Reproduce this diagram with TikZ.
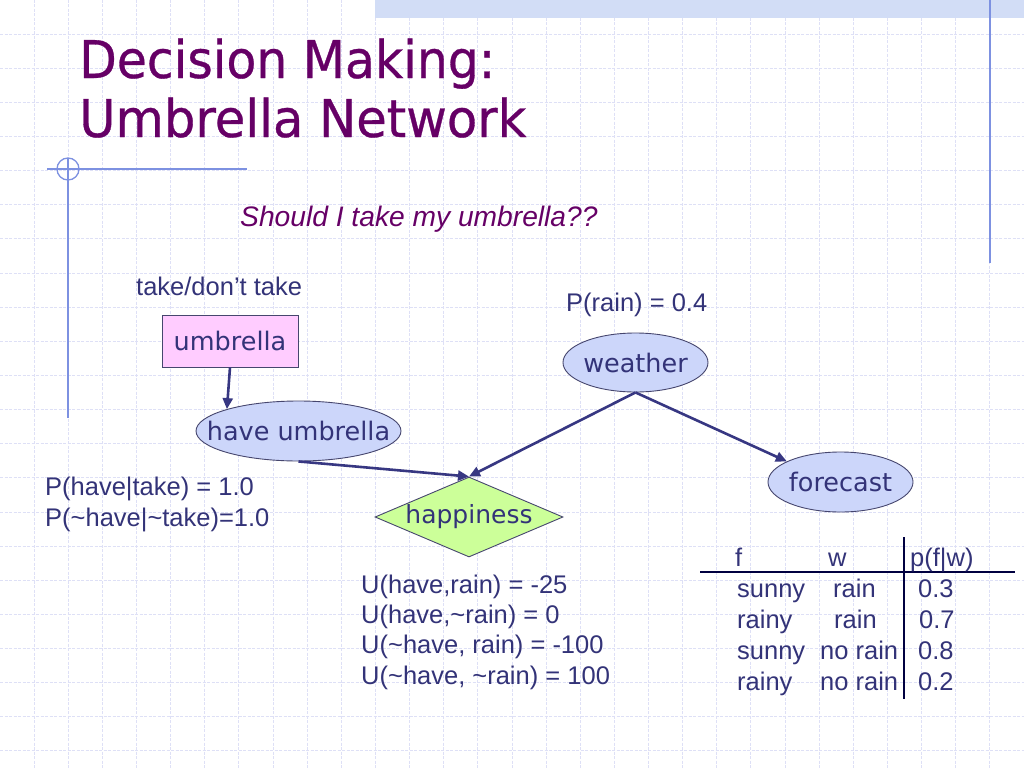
\documentclass[tikz,border=0pt]{standalone}
\usepackage{graphicx}
\usepackage{fontspec}
\usetikzlibrary{arrows.meta,shapes.geometric}
\setmainfont{Liberation Sans}
\newfontfamily\titlefont[FakeBold=0.6]{DejaVu Sans}
\newfontfamily\nodefont{DejaVu Sans}
\definecolor{txtcol}{RGB}{51,51,120}
\definecolor{titlecol}{RGB}{102,0,102}
\definecolor{gridcol}{RGB}{222,224,246}
\definecolor{bandcol}{RGB}{210,221,246}
\definecolor{decocol}{RGB}{125,145,225}
\definecolor{arrcol}{RGB}{55,55,130}
\definecolor{ellfill}{RGB}{204,214,250}
\definecolor{pinkfill}{RGB}{255,204,255}
\definecolor{greenfill}{RGB}{204,255,153}
\definecolor{bordercol}{RGB}{70,70,110}
\tikzset{
  gridline/.style={draw=gridcol, line width=0.9, dash pattern=on 3 off 1.5},
  deco/.style={draw=decocol, line width=1.3},
  lbl/.style={anchor=base west, inner sep=0, text=txtcol, font=\fontsize{25.5}{25.5}\selectfont},
  titletext/.style={anchor=base west, inner sep=0, text=titlecol, font=\titlefont\fontsize{52}{52}\selectfont},
  netnode/.style={draw=bordercol, line width=0.9, text=txtcol, font=\nodefont\fontsize{25.5}{25.5}\selectfont, inner sep=0},
  ellnode/.style={netnode, ellipse, fill=ellfill},
  arr/.style={draw=arrcol, line width=2.6, -{Triangle[length=11,width=10]}},
  tabline/.style={draw=black!75!blue, line width=1.1}
}
\begin{document}
\begin{tikzpicture}[x=1pt,y=-1pt]
\useasboundingbox (0,0) rectangle (1024,768);
\fill[white] (0,0) rectangle (1024,768);
% background grid
\foreach \i in {1,...,29} \draw[gridline] ({\i*34.133},0) -- ({\i*34.133},768);
\foreach \j in {1,...,22} \draw[gridline] (0,{\j*34.133}) -- (1024,{\j*34.133});
% top band and decorations
\fill[bandcol] (375,0) rectangle (1024,18);
\draw[deco, line width=1.8] (990,0) -- (990,263);
\draw[deco] (47,169) -- (247,169);
\draw[deco] (68,158) -- (68,418);
\draw[deco] (68,169) circle (11);
% title
\node[titletext] (title1) at (79,78) {\scalebox{0.94}[1]{Decision Making:}};
\node[titletext] (title2) at (79,137) {\scalebox{0.955}[1]{Umbrella Network}};
\node[anchor=base west, inner sep=0, text=titlecol, font=\itshape\fontsize{28.2}{28.2}\selectfont] (question) at (240,226) {Should I take my umbrella??};
% labels
\node[lbl] (takelbl) at (136,295) {take/don’t take};
\node[lbl] (rainlbl) at (566,311) {P(rain) = 0.4};
\node[lbl] (ptake1) at (45,495) {P(have|take) = 1.0};
\node[lbl] (ptake2) at (45,526) {P(\textasciitilde have|\textasciitilde take)=1.0};
\node[lbl] (u1) at (361,593) {U(have,rain) = -25};
\node[lbl] (u2) at (361,623) {U(have,\textasciitilde rain) = 0};
\node[lbl] (u3) at (361,653) {U(\textasciitilde have, rain) = -100};
\node[lbl] (u4) at (361,684) {U(\textasciitilde have, \textasciitilde rain) = 100};
% nodes
\node[netnode, rectangle, fill=pinkfill, minimum width=136, minimum height=52] (umbrella) at (230,341) {umbrella};
\node[ellnode, inner xsep=-20, minimum width=205, minimum height=60] (have) at (298.5,431) {have umbrella};
\node[ellnode, inner xsep=-2, minimum width=145, minimum height=59] (weather) at (635.5,362.5) {weather};
\node[ellnode, inner xsep=-2, minimum width=145, minimum height=60] (forecast) at (840.5,482) {forecast};
\node[netnode, diamond, aspect=2.4, fill=greenfill, minimum width=188, minimum height=80, inner sep=0, font=\nodefont\fontsize{25}{25}\selectfont] (happy) at (469,517) {happiness};
% arrows
\draw[arr] (umbrella.south) -- (have.163);
\draw[arr] (have.south) -- (happy.north);
\draw[arr] (weather.south) -- (happy.north);
\draw[arr] (weather.south) -- (forecast.159);
% table
\coordinate (hl) at (700,572);
\coordinate (hr) at (1015,572);
\coordinate (vt) at (904,537);
\coordinate (vb) at (904,699);
\draw[tabline] (hl) -- (hr);
\draw[tabline] (vt) -- (vb);
\node[lbl] (hf) at (735,566) {f};
\node[lbl] (hw) at (828,566) {w};
\node[lbl] (hp) at (910,566) {p(f|w)};
\node[lbl] (r1a) at (737,597) {sunny};
\node[lbl] (r1b) at (833,597) {rain};
\node[lbl] (r1c) at (918,597) {0.3};
\node[lbl] (r2a) at (737,628) {rainy};
\node[lbl] (r2b) at (834,628) {rain};
\node[lbl] (r2c) at (919,628) {0.7};
\node[lbl] (r3a) at (737,659) {sunny};
\node[lbl] (r3b) at (820,659) {no rain};
\node[lbl] (r3c) at (918,659) {0.8};
\node[lbl] (r4a) at (737,690) {rainy};
\node[lbl] (r4b) at (820,690) {no rain};
\node[lbl] (r4c) at (918,690) {0.2};
\end{tikzpicture}
\end{document}
